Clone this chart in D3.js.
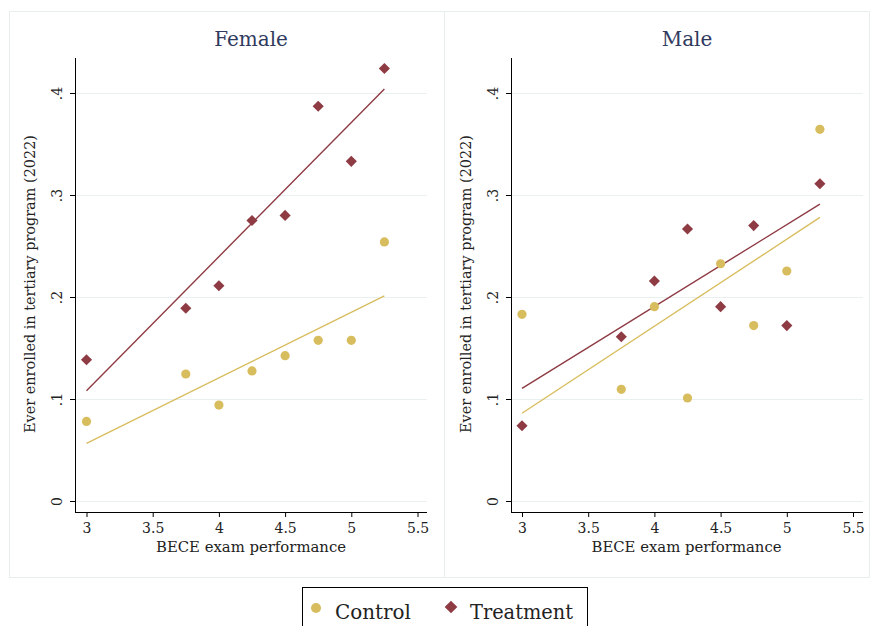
<!DOCTYPE html>
<html><head><meta charset="utf-8">
<script src="https://cdn.jsdelivr.net/npm/d3@7"></script>
<style>body{margin:0;background:#fff}svg{display:block}</style>
</head><body><svg id="c" width="870" height="626"></svg>
<script>
const xValues = [3, 3.75, 4, 4.25, 4.5, 4.75, 5, 5.25];
const femaleControl   = [0.078, 0.1245, 0.094, 0.1275, 0.1425, 0.1575, 0.1575, 0.254];
const femaleTreatment = [0.1385, 0.189, 0.211, 0.275, 0.280, 0.387, 0.333, 0.424];
const maleControl     = [0.183, 0.1095, 0.1905, 0.101, 0.2326, 0.172, 0.2255, 0.3644];
const maleTreatment   = [0.0738, 0.161, 0.2157, 0.2667, 0.1905, 0.270, 0.172, 0.311];
// fitted line endpoints at x = 3 and x = 5.25
const fitX = [3, 5.25];
const femaleFitControl   = [0.0566, 0.201];
const femaleFitTreatment = [0.108, 0.404];
const maleFitControl     = [0.086, 0.278];
const maleFitTreatment   = [0.1105, 0.291];
const xTicks = [3, 3.5, 4, 4.5, 5, 5.5];
const xTickLabels = ["3", "3.5", "4", "4.5", "5", "5.5"];
const yTicks = [0, 0.1, 0.2, 0.3, 0.4];
const yTickLabels = ["0", ".1", ".2", ".3", ".4"];
const panelTitles = ["Female", "Male"];
const seriesNames = ["Control", "Treatment"];

const FONT = "DejaVu Serif";
const colControl = "#d8bd5e", colTreat = "#8e3b44", gridCol = "#e9f0f0", frameCol = "#e6eeee";
const svg = d3.select("#c");

const panels = [
  {title: panelTitles[0], ctrl: femaleControl, trt: femaleTreatment, fc: femaleFitControl, ft: femaleFitTreatment, box:[9,444], ax:75, x0:86.5},
  {title: panelTitles[1], ctrl: maleControl, trt: maleTreatment, fc: maleFitControl, ft: maleFitTreatment, box:[444,869], ax:511, x0:522}
];

panels.forEach(p => {
  svg.append("rect").attr("x", p.box[0]+0.5).attr("y", 11.5).attr("width", p.box[1]-p.box[0]).attr("height", 566)
    .attr("fill", "none").attr("stroke", frameCol);
  const per = 132.4;
  const x = d3.scaleLinear().domain([3, 5.5]).range([p.x0, p.x0 + 2.5*per]);
  const y = d3.scaleLinear().domain([0, 0.4]).range([501, 93]);
  const left = p.ax, right = p.ax + 352, bottom = 512, top = 58;
  const g = svg.append("g");
  g.selectAll(".grid").data(yTicks).join("line")
    .attr("x1", left+1).attr("x2", right).attr("y1", d => Math.round(y(d))+0.5).attr("y2", d => Math.round(y(d))+0.5)
    .attr("stroke", gridCol).attr("stroke-width", 1);
  const yAxis = d3.axisLeft(y).tickValues(yTicks).tickFormat((d,i) => yTickLabels[i]).tickSize(5).tickPadding(4);
  const ya = g.append("g").attr("transform", `translate(${left},0)`).call(yAxis);
  ya.attr("font-family", FONT);
  ya.select(".domain").attr("d", `M0.5,${top}V${bottom}`).attr("stroke", "#000");
  ya.selectAll(".tick text").style("font-family", FONT).attr("font-size", 14).attr("fill", "#222")
    .attr("text-anchor", "middle").attr("transform", "rotate(-90)").attr("x", 0).attr("y", -13).attr("dy", "0");
  const xAxis = d3.axisBottom(x).tickValues(xTicks).tickFormat((d,i) => xTickLabels[i]).tickSize(5).tickPadding(6);
  const xa = g.append("g").attr("transform", `translate(0,${bottom})`).call(xAxis);
  xa.attr("font-family", FONT);
  xa.select(".domain").attr("d", `M${left},0.5H${right}`).attr("stroke", "#000");
  xa.selectAll(".tick text").style("font-family", FONT).attr("font-size", 14).attr("fill", "#222");
  g.append("text").attr("transform", `translate(${left-40},284) rotate(-90)`)
    .attr("font-family", FONT).attr("text-anchor", "middle").attr("font-size", 14.5).attr("fill", "#222")
    .attr("textLength", 298).attr("lengthAdjust", "spacingAndGlyphs")
    .text("Ever enrolled in tertiary program (2022)");
  g.append("text").attr("x", x(4.25)-1).attr("y", 552).attr("text-anchor", "middle").attr("font-size", 14).attr("fill", "#222")
    .attr("font-family", FONT).attr("textLength", 190).attr("lengthAdjust", "spacingAndGlyphs")
    .text("BECE exam performance");
  g.append("text").attr("x", (left + right)/2).attr("y", 46).attr("text-anchor", "middle")
    .attr("font-family", FONT).attr("font-size", 20).attr("fill", "#2f3a5e").text(p.title);
  const line = d3.line().x(d => x(d[0])).y(d => y(d[1]));
  g.append("path").attr("d", line(fitX.map((v,i) => [v, p.fc[i]]))).attr("stroke", colControl).attr("stroke-width", 1.4).attr("fill", "none");
  g.append("path").attr("d", line(fitX.map((v,i) => [v, p.ft[i]]))).attr("stroke", colTreat).attr("stroke-width", 1.4).attr("fill", "none");
  g.selectAll(".c").data(xValues.map((v,i) => [v, p.ctrl[i]])).join("circle")
    .attr("cx", d => x(d[0])).attr("cy", d => y(d[1])).attr("r", 4.6).attr("fill", colControl);
  g.selectAll(".t").data(xValues.map((v,i) => [v, p.trt[i]])).join("path")
    .attr("transform", d => `translate(${x(d[0])},${y(d[1])}) rotate(45)`)
    .attr("d", d3.symbol().type(d3.symbolSquare).size(62)()).attr("fill", colTreat);
});

const lg = svg.append("g");
lg.append("rect").attr("x", 302.5).attr("y", 587.5).attr("width", 285).attr("height", 60).attr("fill", "#fff").attr("stroke", "#000");
lg.append("circle").attr("cx", 316).attr("cy", 608).attr("r", 5).attr("fill", colControl);
lg.append("text").attr("x", 335).attr("y", 619).attr("font-family", FONT).attr("font-size", 20).attr("fill", "#222")
  .attr("textLength", 76).attr("lengthAdjust", "spacingAndGlyphs").text(seriesNames[0]);
lg.append("path").attr("transform", "translate(451,607) rotate(45)").attr("d", d3.symbol().type(d3.symbolSquare).size(80)()).attr("fill", colTreat);
lg.append("text").attr("x", 470).attr("y", 619).attr("font-family", FONT).attr("font-size", 20).attr("fill", "#222")
  .attr("textLength", 103).attr("lengthAdjust", "spacingAndGlyphs").text(seriesNames[1]);
</script></body></html>
